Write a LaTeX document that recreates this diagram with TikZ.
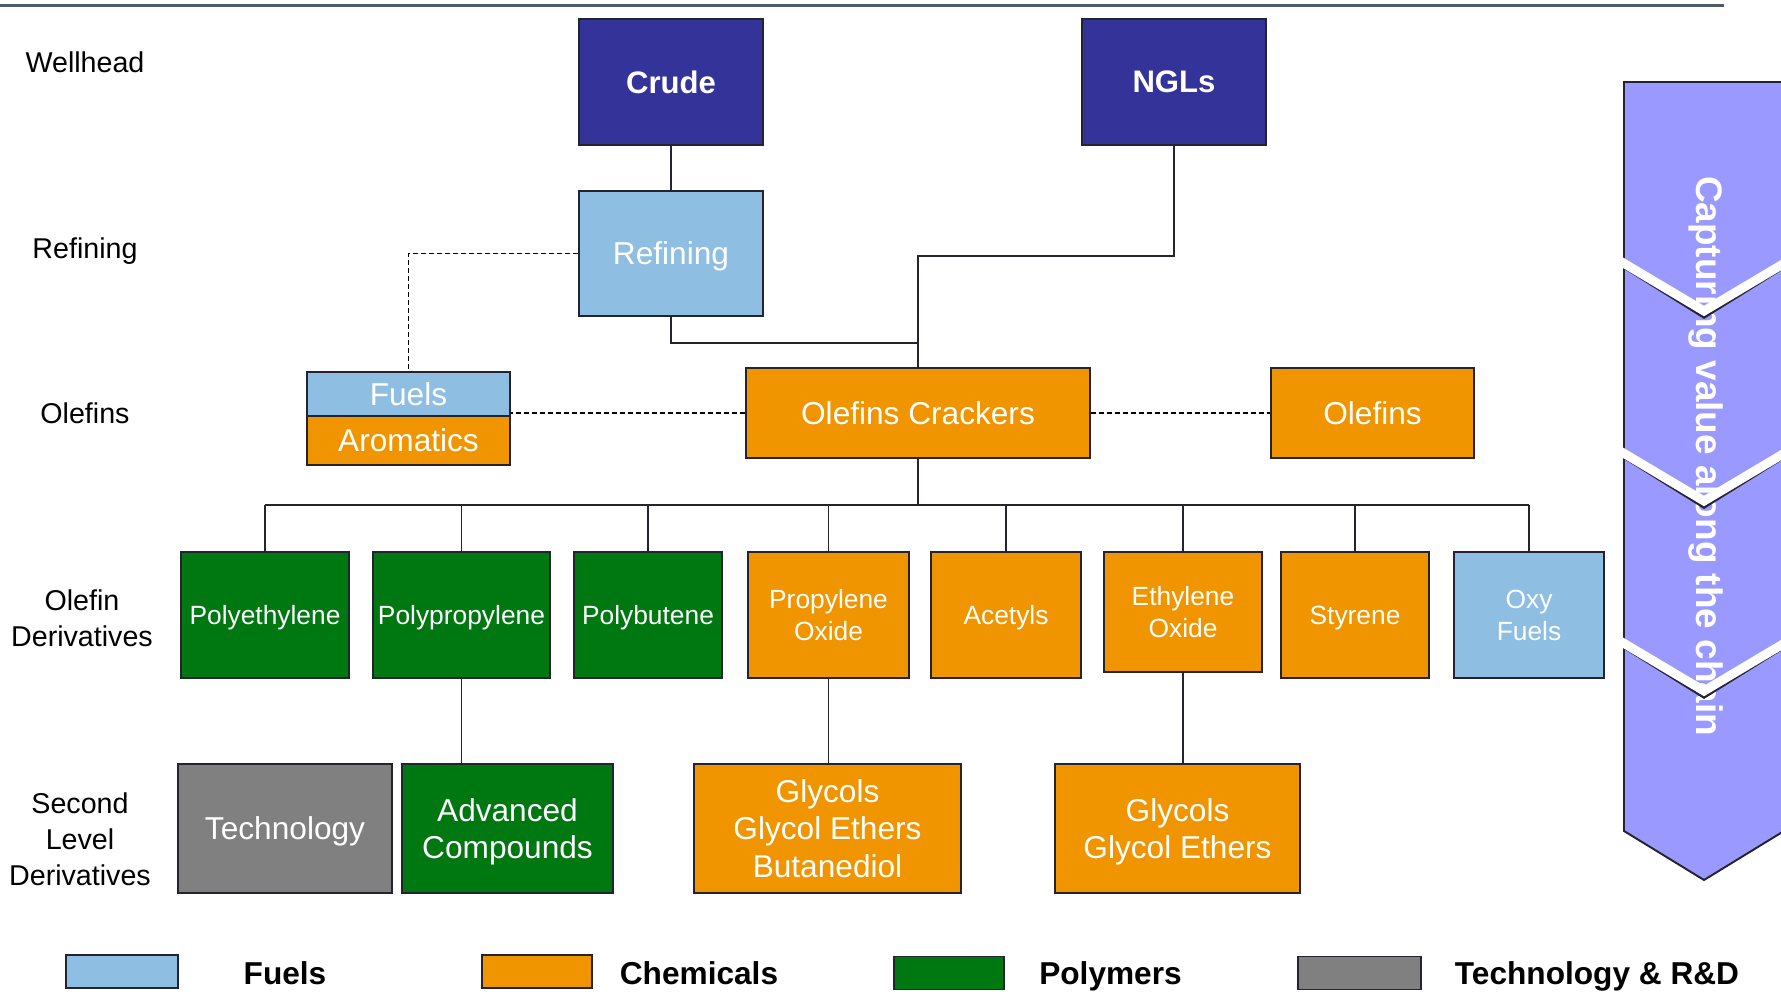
\documentclass[tikz,border=0pt]{standalone}
\usepackage{fontspec}
\setmainfont{Liberation Sans}

\definecolor{crudeblue}{RGB}{51,51,153}
\definecolor{fuelblue}{RGB}{142,190,226}
\definecolor{chemorange}{RGB}{240,148,0}
\definecolor{polygreen}{RGB}{0,120,18}
\definecolor{techgray}{RGB}{128,128,128}
\definecolor{chainviolet}{RGB}{153,153,255}
\definecolor{rulegray}{RGB}{78,90,108}
\definecolor{edge}{RGB}{35,35,50}

\tikzset{
  box/.style={draw=edge, line width=1.1pt, text=white, align=center, inner sep=0pt,
    text depth=0pt, font=\fontsize{18}{21.3}\selectfont},
  rowfour/.style={font=\fontsize{15}{18}\selectfont, minimum height=2.52cm},
  rowfive/.style={minimum height=2.58cm},
  fuel/.style={box, fill=fuelblue},
  chem/.style={box, fill=chemorange},
  poly/.style={box, fill=polygreen},
  tech/.style={box, fill=techgray},
  well/.style={box, fill=crudeblue, minimum width=3.68cm, minimum height=2.52cm,
    font=\fontsize{17.7}{21}\selectfont\bfseries},
  stage/.style={align=center, font=\fontsize{16.3}{20.5}\selectfont},
  legendtext/.style={anchor=base, font=\fontsize{18}{21}\selectfont\bfseries},
  legendbox/.style={minimum height=0.66cm},
  link/.style={line width=0.85pt, edge},
  dashlink/.style={line width=1pt, black, dash pattern=on 0.1cm off 0.06cm},
}

\begin{document}
\begin{tikzpicture}
  \useasboundingbox (0,0) rectangle (35.62,-19.9);
  \clip (0,0) rectangle (35.62,-19.9);
  \draw[rulegray, line width=0.06cm] (0,-0.12) -- (34.48,-0.12);

  % stages on the left
  \node[stage] (swell) at (1.70,-1.24) {Wellhead};
  \node[stage] (sref) at (1.70,-5.02) {Refining};
  \node[stage] (sole) at (1.70,-8.27) {Olefins};
  \node[stage] (sder) at (1.64,-12.36) {Olefin\\Derivatives};
  \node[stage] (ssec) at (1.60,-16.78) {Second\\Level\\Derivatives};

  % boxes
  \node[well] (crude) at (13.42,-1.64) {Crude};
  \node[well] (ngls) at (23.48,-1.64) {NGLs};
  \node[fuel, minimum width=3.68cm, minimum height=2.5cm] (refining) at (13.42,-5.07) {Refining};
  \node[fuel, minimum width=4.06cm, minimum height=0.88cm] (fuels) at (8.17,-7.88) {Fuels};
  \node[chem, minimum width=4.06cm, minimum height=0.98cm] (arom) at (8.17,-8.81) {Aromatics};
  \node[chem, minimum width=6.88cm, minimum height=1.8cm] (crackers) at (18.36,-8.26) {Olefins Crackers};
  \node[chem, minimum width=4.06cm, minimum height=1.8cm] (olefins) at (27.45,-8.26) {Olefins};

  \node[poly, rowfour, minimum width=3.36cm] (pe) at (5.30,-12.3) {Polyethylene};
  \node[poly, rowfour, minimum width=3.54cm] (pp) at (9.23,-12.3) {Polypropylene};
  \node[poly, rowfour, minimum width=2.96cm] (pb) at (12.96,-12.3) {Polybutene};
  \node[chem, rowfour, minimum width=3.22cm] (po) at (16.57,-12.3) {Propylene\\Oxide};
  \node[chem, rowfour, minimum width=3.0cm] (ac) at (20.12,-12.3) {Acetyls};
  \node[chem, rowfour, minimum width=3.16cm, minimum height=2.4cm] (eo) at (23.66,-12.24) {Ethylene\\Oxide};
  \node[chem, rowfour, minimum width=2.96cm] (st) at (27.10,-12.3) {Styrene};
  \node[fuel, rowfour, minimum width=3.0cm] (oxy) at (30.58,-12.3) {Oxy\\Fuels};

  \node[tech, rowfive, minimum width=4.28cm] (tech) at (5.70,-16.57) {Technology};
  \node[poly, rowfive, minimum width=4.22cm] (adv) at (10.15,-16.57) {Advanced\\Compounds};
  \node[chem, rowfive, minimum width=5.34cm] (glyone) at (16.55,-16.57) {Glycols\\Glycol Ethers\\Butanediol};
  \node[chem, rowfive, minimum width=4.9cm] (glytwo) at (23.55,-16.57) {Glycols\\Glycol Ethers};

  % connectors
  \coordinate (ngljoin) at (18.36,-5.12);
  \coordinate (refjoin) at (18.36,-6.86);
  \coordinate (bus) at (18.36,-10.1);
  \draw[link] (crude) -- (refining);
  \draw[link] (refining.south) |- (refjoin);
  \draw[link] (ngls.south) |- (ngljoin) -- (crackers.north);
  \draw[link] (crackers.south) -- (bus);
  \draw[link] (pe.north |- bus) -- (oxy.north |- bus);
  \foreach \n in {pe,pp,pb,po,ac,eo,st,oxy} {
    \draw[link] (\n.north) -- (\n.north |- bus);
  };
  \draw[link] (pp.south) -- (pp.south |- adv.north);
  \draw[link] (po.south) -- (po.south |- glyone.north);
  \draw[link] (eo.south) -- (eo.south |- glytwo.north);
  \draw[dashlink] (refining.west) -| (fuels.north);
  \draw[dashlink] (crackers.west) -- (crackers.west -| arom.east);
  \draw[dashlink] (crackers.east) -- (olefins.west);

  % value chain arrow
  \filldraw[fill=chainviolet, draw=edge, line width=1.1pt]
    (32.48,-1.64) -- (32.48,-16.62) -- (34.08,-17.6) -- (35.68,-16.62) -- (35.68,-1.64) -- cycle;
  \node[rotate=-90, text=white, font=\fontsize{21}{24}\selectfont\bfseries] (chain)
    at (34.12,-9.12) {Capturing value along the chain};
  \foreach \y in {-5.22,-9.02,-12.82} {
    \draw[edge, line width=0.05cm] (32.48,\y-0.13) -- (34.08,\y-1.13) -- (35.68,\y-0.13);
    \draw[white, line width=0.18cm] (32.4,\y) -- (34.08,\y-1) -- (35.76,\y);
  };

  % legend
  \node[fuel, legendbox, minimum width=2.24cm] (kfuel) at (2.44,-19.43) {};
  \node[legendtext] (tfuel) at (5.70,-19.69) {Fuels};
  \node[chem, legendbox, minimum width=2.2cm] (kchem) at (10.74,-19.43) {};
  \node[legendtext] (tchem) at (13.98,-19.69) {Chemicals};
  \node[poly, legendbox, minimum width=2.2cm] (kpoly) at (18.98,-19.46) {};
  \node[legendtext] (tpoly) at (22.21,-19.69) {Polymers};
  \node[tech, legendbox, minimum width=2.46cm] (ktech) at (27.19,-19.46) {};
  \node[legendtext] (ttech) at (31.94,-19.69) {Technology \& R\&D};
\end{tikzpicture}
\end{document}
